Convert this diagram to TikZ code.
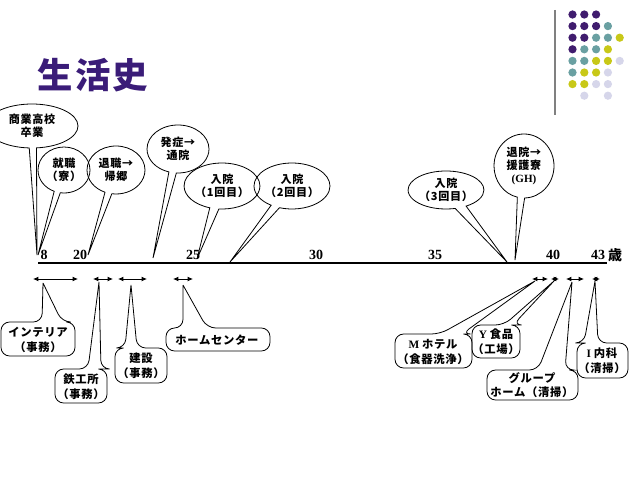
\documentclass[tikz,border=0pt]{standalone}
\usepackage{fontspec}
\setmainfont{Liberation Serif}
\newfontfamily\jp{Noto Sans CJK JP}[LetterSpace=6]
\usetikzlibrary{shapes.callouts,arrows.meta}
\definecolor{titlec}{RGB}{58,28,120}
\definecolor{pu}{RGB}{64,28,110}
\definecolor{te}{RGB}{106,160,162}
\definecolor{ye}{RGB}{200,200,24}
\definecolor{la}{RGB}{214,214,234}
\begin{document}
\begin{tikzpicture}[x=0.75pt,y=-0.75pt,
 bub/.style={ellipse callout,draw,line width=0.6pt,inner sep=0pt,align=center,
   font=\jp\bfseries\fontsize{8.3}{10}\selectfont,callout pointer arc=14},
 lbl/.style={align=center,inner sep=0pt,font=\jp\bfseries\fontsize{8.5}{11}\selectfont},
 box/.style={draw,line width=0.6pt,rounded corners=6.5pt},
 tk/.style={{Latex[length=4pt,width=3.6pt]}-{Latex[length=4pt,width=3.6pt]},line width=0.6pt},
 num/.style={font=\bfseries\fontsize{10.5}{12}\selectfont,inner sep=0pt}]
\useasboundingbox (0,0) rectangle (638,478);

% decoration
\draw[gray,line width=0.8pt] (555,10) -- (555,115);
\foreach \r/\l in {0/{0/pu,1/pu,2/pu},1/{0/pu,1/pu,2/pu,3/te},2/{0/pu,1/pu,2/te,3/te,4/ye},
  3/{0/pu,1/te,2/te,3/ye},4/{0/te,1/te,2/ye,3/ye,4/la},5/{0/te,1/ye,2/ye,3/la},
  6/{0/ye,1/ye,2/la,3/la},7/{1/la,3/la}}{
  \foreach \c/\k in \l {\fill[\k] (572.5+11.8*\c,14.5+11.6*\r) circle (3.1pt);}
}

\node[font=\jp\bfseries\fontsize{26.5}{30}\selectfont,text=titlec] (title) at (93,75) {生活史};

% timeline
\coordinate (tl) at (38,263);
\coordinate (tr) at (607,263);
\draw[line width=1.6pt] (tl) -- (tr);
\node[num] (n8) at (44,255) {8};
\node[num] (n20) at (80,255) {20};
\node[num] (n25) at (193,255) {25};
\node[num] (n30) at (316,255) {30};
\node[num] (n35) at (435,255) {35};
\node[num] (n40) at (553,255) {40};
\node[num] (n43) at (598,255) {43};
\node[num,font=\jp\bfseries\fontsize{10.5}{12}\selectfont] (sai) at (615,255) {歳};

% upper callouts
\coordinate (pA) at (37,255);
\coordinate (pB) at (38,255);
\coordinate (pC) at (88,255);
\coordinate (pD) at (153,258);
\coordinate (pE) at (197,259);
\coordinate (pF) at (230,262);
\coordinate (pG) at (507,262);
\coordinate (pH) at (515,260);
\node[bub,minimum width=69pt,minimum height=33pt,callout absolute pointer=(pA),callout pointer arc=9] (bA) at (32,126) {商業高校\\卒業};
\node[bub,minimum width=39pt,minimum height=34.5pt,callout absolute pointer=(pB)] (bB) at (64,170) {就職\\（寮）};
\node[bub,minimum width=43.5pt,minimum height=36pt,callout absolute pointer=(pC)] (bC) at (116,170) {退職→\\帰郷};
\node[bub,minimum width=46.5pt,minimum height=36pt,callout absolute pointer=(pD)] (bD) at (178,149) {発症→\\通院};
\node[bub,minimum width=55.5pt,minimum height=34.5pt,callout absolute pointer=(pE)] (bE) at (222,186) {入院\\（1回目）};
\node[bub,minimum width=57pt,minimum height=34.5pt,callout absolute pointer=(pF)] (bF) at (292,186) {入院\\（2回目）};
\node[bub,minimum width=55.5pt,minimum height=28.5pt,callout absolute pointer=(pG),callout pointer arc=18] (bG) at (446,190) {入院\\（3回目）};
\node[bub,minimum width=45pt,minimum height=48pt,callout absolute pointer=(pH)] (bH) at (524,166) {退院→\\援護寮\\{\normalfont\bfseries (GH)}};

% work periods
\foreach \n/\a/\b in {1/33/78,2/93/113,3/118/147,4/173/193,5/532/548,6/551/559,7/566/584,8/592/600}{
  \coordinate (w\n l) at (\a,279);
  \coordinate (w\n r) at (\b,279);
  \draw[tk] (w\n l) -- (w\n r);
}

% lower callouts
\coordinate (qa) at (43,283);
\draw[box] (qa) -- (62,322) -- (75,322) -- (75,356) -- (1,356) -- (1,322) -- (42,322) -- (qa);
\node[lbl] (ta) at (38,340) {インテリア\\（事務）};

\coordinate (qb) at (99,282);
\draw[box] (qb) -- (101,369) -- (107,369) -- (107,403) -- (55,403) -- (55,369) -- (88,369) -- (qb);
\node[lbl] (tb) at (81,387) {鉄工所\\（事務）};

\coordinate (qc) at (131,285);
\draw[box] (qc) -- (137,348) -- (167,348) -- (167,383) -- (115,383) -- (115,348) -- (125,348) -- (qc);
\node[lbl] (tc) at (141,366) {建設\\（事務）};

\coordinate (qd) at (183,285);
\draw[box] (qd) -- (207,328) -- (270,328) -- (270,351) -- (166,351) -- (166,328) -- (183,328) -- (qd);
\node[lbl] (td) at (217,340) {ホームセンター};

\coordinate (qe) at (535,281);
\draw[box] (qe) -- (462,334) -- (472,334) -- (472,368) -- (395,368) -- (395,334) -- (440,334) -- (qe);
\node[lbl] (te) at (433,352) {{\normalfont\bfseries M }ホテル\\（食器洗浄）};

\coordinate (qf) at (554,281);
\draw[box] (qf) -- (513,325) -- (520,325) -- (520,358) -- (472,358) -- (472,325) -- (504,325) -- (qf);
\node[lbl] (tf) at (496,342) {{\normalfont\bfseries Y }食品\\（工場）};

\coordinate (qg) at (572,282);
\draw[box] (qg) -- (565,370) -- (578,370) -- (578,400) -- (487,400) -- (487,370) -- (538,370) -- (qg);
\node[lbl] (tg) at (532,385) {グループ\\ホーム（清掃）};

\coordinate (qh) at (595,281);
\draw[box] (qh) -- (598,343) -- (628,343) -- (628,378) -- (577,378) -- (577,343) -- (584,343) -- (qh);
\node[lbl] (th) at (602,361) {{\normalfont\bfseries I }内科\\（清掃）};
\end{tikzpicture}
\end{document}
